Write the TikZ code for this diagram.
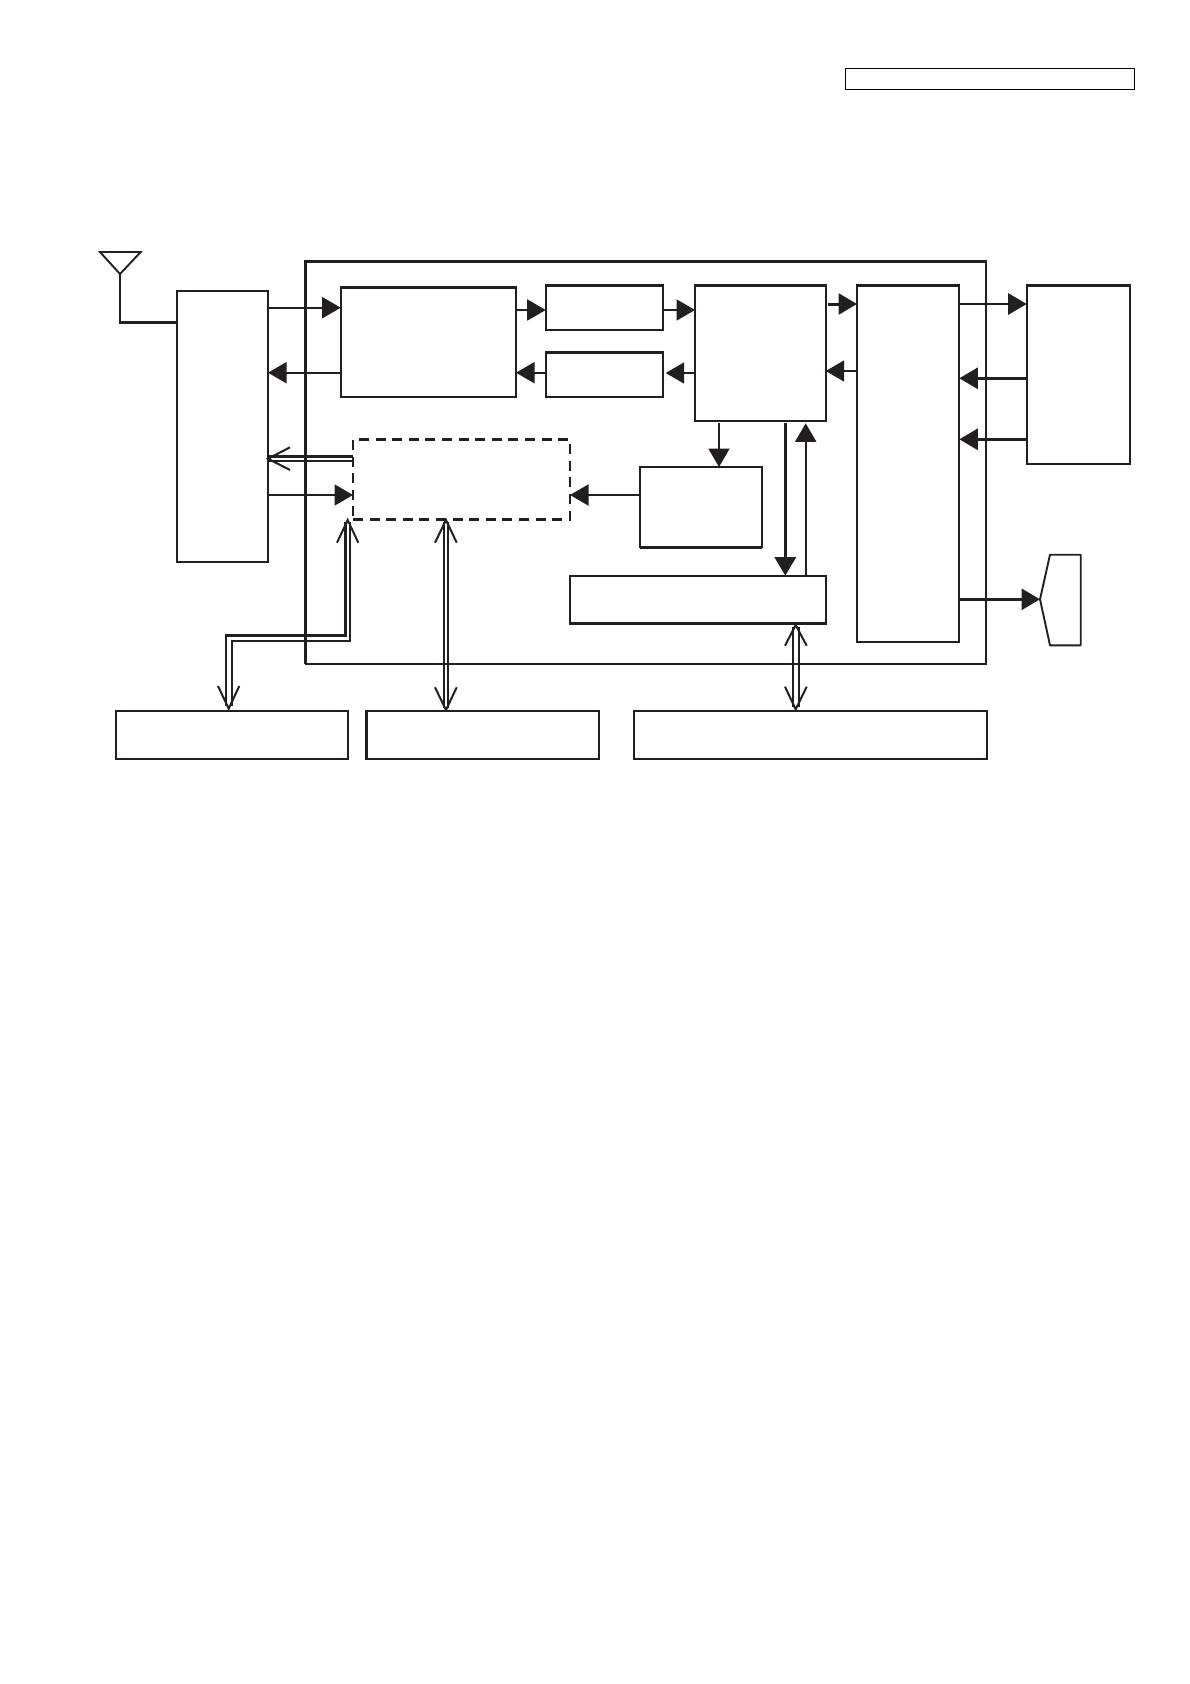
\documentclass[tikz,border=0pt]{standalone}
\usetikzlibrary{arrows.meta}
\definecolor{ink}{HTML}{231F20}
\tikzset{
  every path/.style={line join=miter},
  thinline/.style={draw=ink,line width=1.9pt},
  thickline/.style={draw=ink,line width=2.7pt},
  arrowthin/.style={thinline,-{Triangle[length=18.5pt,width=21pt]},color=ink},
  arrowthick/.style={draw=ink,line width=2.7pt,-{Triangle[length=18.5pt,width=21pt]},color=ink},
  barb/.style={draw=ink,line width=2pt,line join=miter},
  rail/.style={draw=ink,line width=1.9pt},
  railthick/.style={draw=ink,line width=2.8pt},
  box/.style={draw=ink,line width=1.9pt,inner sep=0pt,outer sep=0pt,shape=rectangle},
  dashbox/.style={box,line width=2.4pt,dash pattern=on 10pt off 6.6pt},
  tagbox/.style={draw=black,line width=1.4pt,inner sep=0pt,outer sep=0pt,shape=rectangle},
}
% name, x1, y1, x2, y2, style
\newcommand{\bx}[6]{%
  \pgfmathsetmacro{\bw}{#4-#2}\pgfmathsetmacro{\bh}{#5-#3}%
  \pgfmathsetmacro{\bcx}{(#2+#4)/2}\pgfmathsetmacro{\bcy}{(#3+#5)/2}%
  \node[#6,minimum width=\bw pt,minimum height=\bh pt] (#1) at (\bcx,\bcy) {};%
}
\begin{document}
\begin{tikzpicture}[x=1pt,y=-1pt]
\useasboundingbox[fill=white] (0,0) rectangle (1190,1684);

% boxes
\bx{tag}{845.3}{68.3}{1134.3}{89.3}{tagbox}
\bx{outer}{305.7}{261.3}{986}{663.7}{box}
\bx{left}{176.7}{290.7}{268}{562}{box}
\bx{mix}{340.7}{287.3}{516}{396.7}{box}
\bx{up}{545.7}{285.3}{663.3}{330}{box}
\bx{dn}{545.7}{352.3}{663.3}{396.7}{box}
\bx{proc}{695}{285.3}{825.7}{421}{box}
\bx{base}{857}{285.3}{959.3}{641.7}{box}
\bx{io}{1026.7}{285.3}{1130}{463.7}{box}
\bx{dsh}{353}{439.3}{570}{519.3}{dashbox}
\bx{mid}{640}{467}{762}{547.4}{box}
\bx{bus}{570}{575.7}{826}{623.7}{box}
\bx{bl}{115.7}{710.7}{348}{758.7}{box}
\bx{bm}{366.3}{710.7}{599}{758.7}{box}
\bx{br}{634}{710.7}{987}{759}{box}

% heavier edges of the boxes
\draw[thickline,line width=3pt] (outer.south west) -- (outer.north west) -- (outer.north east);
\draw[thickline] (mix.north west) -- (mix.north east);
\draw[thickline] (up.north west) -- (up.north east);
\draw[thickline] (dn.north west) -- (dn.north east);
\draw[thickline] (proc.south west) -- (proc.north west) -- (proc.north east);
\draw[thickline] (base.north west) -- (base.north east);
\draw[thickline] (io.north west) -- (io.north east);
\draw[thickline] (mid.north west) -- (mid.north east);
\draw[thickline] (mid.south west) -- (mid.south east);
\draw[thickline] (bus.south west) -- (bus.south east);
\draw[thickline] (bm.north west) -- (bm.south west);

% speaker
\coordinate (spk) at (1040,599.3);
\draw[thinline,line join=round] (spk) -- (1050,554.7) -- (1080.7,554.7) -- (1080.7,645.3) -- (1050,645.3) -- cycle;

% antenna
\coordinate (ant) at (120,274);
\draw[thinline] (100,252) -- (140.7,252) -- (ant) -- cycle;
\draw[thinline] (ant) -- (120,322);
\draw[thickline,line width=3pt] (119,322.3) -- (left.west |- 0,322.3);

% filled arrows
\draw[arrowthin] (left.east |- 0,307.7) -- (mix.west |- 0,307.7);
\draw[arrowthin] (mix.west |- 0,372.7) -- (left.east |- 0,372.7);
\draw[arrowthin] (mix.east |- 0,310) -- (up.west |- 0,310);
\draw[arrowthin] (dn.west |- 0,372.7) -- (mix.east |- 0,372.7);
\draw[arrowthin] (up.east |- 0,310) -- (proc.west |- 0,310);
\coordinate (dnt) at (665.7,373);
\draw[arrowthin] (proc.west |- dnt) -- (dnt);
\coordinate (pe) at (828.3,304);
\draw[arrowthick,line width=3pt] (pe) -- (base.west |- pe);
\draw[arrowthin] (base.west |- 0,371) -- (proc.east |- 0,371);
\draw[arrowthick] (base.east |- 0,304) -- (io.west |- 0,304);
\draw[arrowthick] (io.west |- 0,378.3) -- (base.east |- 0,378.3);
\draw[arrowthick] (io.west |- 0,439.3) -- (base.east |- 0,439.3);
\coordinate (p1) at (719,423.3);
\draw[arrowthin] (p1) -- (p1 |- mid.north);
\coordinate (p2) at (785.3,423.3);
\draw[arrowthick,line width=3pt] (p2) -- (p2 |- bus.north);
\coordinate (p3) at (805.7,423.3);
\draw[arrowthin] (p3 |- bus.north) -- (p3);
\draw[arrowthin] (mid.west |- 0,495) -- (dsh.east |- 0,495);
\draw[arrowthin] (left.east |- 0,495) -- (dsh.west |- 0,495);
\draw[arrowthick,line width=3pt] (base.east |- spk) -- (spk);

% hollow arrow: dashed block to left block
\coordinate (d1) at (left.east |- 0,458.7);
\draw[railthick] (dsh.west |- 0,456.7) -- (left.east |- 0,456.7);
\draw[railthick] (dsh.west |- 0,461) -- (left.east |- 0,461);
\draw[barb] (290,447.3) -- (d1) -- (290,470);

% hollow arrow: bottom-left block to dashed block
\coordinate (d2t) at (347.7,520);
\coordinate (d2b) at (228.7,708.7);
\draw[railthick] (345.7,522) -- (345.7,635.3) -- (226,635.3) -- (226,706);
\draw[rail] (350,522) -- (350,640.7) -- (232,640.7) -- (232,706);
\draw[barb] (337,542.7) -- (d2t) -- (358.3,542.7);
\draw[barb] (218,686) -- (d2b) -- (239.3,686);

% hollow arrow: dashed block to bottom-middle block
\coordinate (d3t) at (446,520);
\coordinate (d3b) at (446,710);
\draw[rail] (444.3,522) -- (444.3,708);
\draw[rail] (448.3,522) -- (448.3,708);
\draw[barb] (435,542.7) -- (d3t) -- (456.7,542.7);
\draw[barb] (435,687.3) -- (d3b) -- (456.7,687.3);

% hollow arrow: bus to bottom-right block
\coordinate (d4t) at (795.7,625);
\coordinate (d4b) at (795.7,709.3);
\draw[rail] (792.7,627) -- (792.7,707);
\draw[rail] (799,627) -- (799,707);
\draw[barb] (785,645.7) -- (d4t) -- (806.7,645.7);
\draw[barb] (785,686.7) -- (d4b) -- (806.7,686.7);
\end{tikzpicture}
\end{document}
